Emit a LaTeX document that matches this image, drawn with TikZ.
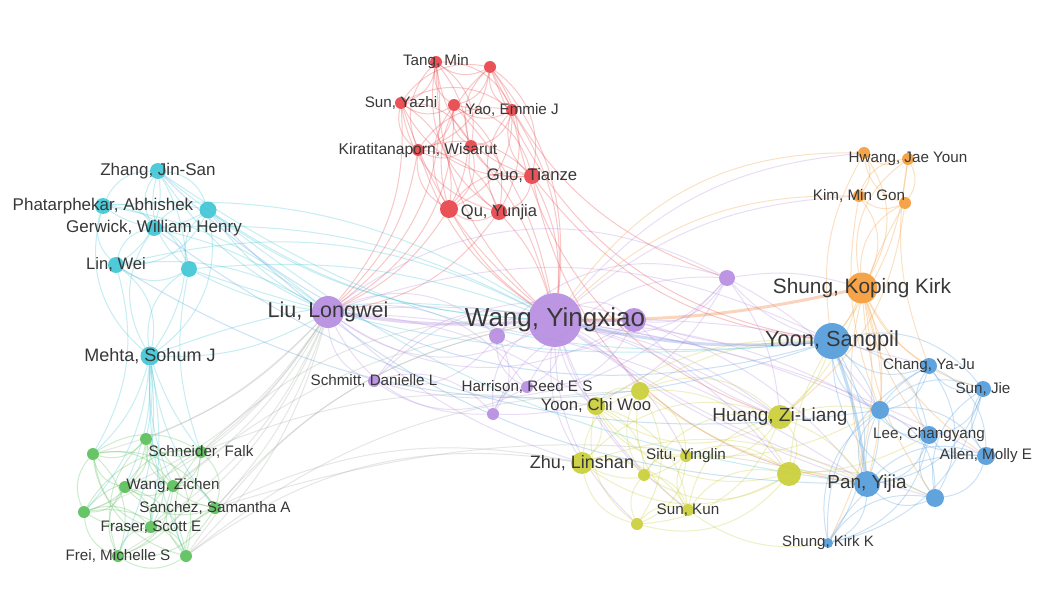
\documentclass[tikz,border=0pt]{standalone}
\usepackage{fontspec}
\setmainfont{Liberation Sans}
\usetikzlibrary{calc}
\definecolor{cr}{HTML}{E8474C}
\definecolor{cc}{HTML}{42C6D6}
\definecolor{cg}{HTML}{5CC05C}
\definecolor{cp}{HTML}{B78FE0}
\definecolor{cy}{HTML}{CBCF3A}
\definecolor{co}{HTML}{F59E3C}
\definecolor{cb}{HTML}{559EDB}
\definecolor{ct}{HTML}{383838}
\definecolor{cgray}{HTML}{A8B0A8}
\pgfdeclarelayer{bgl}
\pgfdeclarelayer{edges}
\pgfsetlayers{bgl,edges,main}
\tikzset{
  dot/.style={circle, fill=#1, draw=none, inner sep=0pt, fill opacity=0.93},
  lab/.style={font=\fontsize{#1}{#1}\selectfont, text=ct, inner sep=0pt},
  edge/.style={draw=#1, line width=1pt, draw opacity=0.3},
  thick edge/.style={draw=#1, line width=3pt, draw opacity=0.35},
}
\newcommand\labs{}
\makeatletter
\newcommand\nd[5]{\node[dot=#4, minimum size=#3pt] (#1) at (#2) {};}
\newcommand\nl[7]{\node[dot=#4, minimum size=#3pt] (#1) at (#2) {};%
  \g@addto@macro\labs{\node[lab=#6] at (#1) {#7};}}
\makeatother
\begin{document}
\begin{tikzpicture}[x=1pt,y=-1pt]
\begin{pgfonlayer}{bgl}
\fill[white] (0,0) rectangle (1050,599);
\end{pgfonlayer}
\useasboundingbox (0,0) rectangle (1050,599);
% red
\nl{r1}{436,62}{12}{cr}{}{15.2}{Tang, Min}
\nd{r2}{490,67}{12}{cr}{}
\nl{r3}{401,103}{12}{cr}{}{15.2}{Sun, Yazhi}
\nd{r4}{454,105}{12}{cr}{}
\nl{r5}{512,110}{12}{cr}{}{15.2}{Yao, Emmie J}
\nl{r6}{418,150}{12}{cr}{}{15.6}{Kiratitanaporn, Wisarut}
\nd{r7}{471,146}{12}{cr}{}
\nl{r8}{532,176}{16}{cr}{}{16.7}{Guo, Tianze}
\nd{r9}{449,209}{18}{cr}{}
\nl{r10}{499,212}{16}{cr}{}{16.5}{Qu, Yunjia}
% cyan
\nl{c1}{158,171}{16}{cc}{}{17}{Zhang, Jin-San}
\nl{c2}{103,206}{16}{cc}{}{17}{Phatarphekar, Abhishek}
\nd{c3}{208,210}{17}{cc}{}
\nl{c4}{154,228}{16}{cc}{}{17}{Gerwick, William Henry}
\nl{c5}{116,265}{16}{cc}{}{16.6}{Lin, Wei}
\nd{c6}{189,269}{16}{cc}{}
\nl{c7}{150,356}{19}{cc}{}{18}{Mehta, Sohum J}
% green
\nd{g1}{93,454}{12}{cg}{}
\nd{g2}{146,439}{12}{cg}{}
\nl{g3}{201,452}{12}{cg}{}{15.2}{Schneider, Falk}
\nd{g4}{125,487}{12}{cg}{}
\nl{g5}{173,486}{12}{cg}{}{15.2}{Wang, Zichen}
\nd{g6}{84,512}{12}{cg}{}
\nl{g7}{215,508}{12}{cg}{}{15.2}{Sanchez, Samantha A}
\nl{g8}{151,527}{12}{cg}{}{15.2}{Fraser, Scott E}
\nl{g9}{118,556}{12}{cg}{}{15.2}{Frei, Michelle S}
\nd{g10}{186,556}{12}{cg}{}
% purple
\nl{p1}{555,320}{54}{cp}{}{26}{Wang, Yingxiao}
\nd{p2}{497,336}{16}{cp}{}
\nd{p3}{634,320}{24}{cp}{}
\nd{p4}{727,278}{16}{cp}{}
\nl{p5}{328,312}{32}{cp}{}{21.5}{Liu, Longwei}
\nl{p6}{374,381}{12}{cp}{}{15.2}{Schmitt, Danielle L}
\nl{p7}{527,387}{12}{cp}{}{15.2}{Harrison, Reed E S}
\nd{p8}{493,414}{12}{cp}{}
% yellow
\nd{y1}{640,391}{18}{cy}{}
\nl{y2}{596,406}{18}{cy}{}{16.7}{Yoon, Chi Woo}
\nl{y3}{780,417}{24}{cy}{}{19}{Huang, Zi-Liang}
\nl{y4}{582,463}{22}{cy}{}{18}{Zhu, Linshan}
\nl{y5}{686,456}{12}{cy}{}{15.2}{Situ, Yinglin}
\nd{y6}{644,475}{12}{cy}{}
\nd{y7}{789,474}{24}{cy}{}
\nl{y8}{688,510}{12}{cy}{}{15.2}{Sun, Kun}
\nd{y9}{637,524}{12}{cy}{}
% orange
\nd{o1}{864,153}{12}{co}{}
\nl{o2}{908,159}{12}{co}{}{15.2}{Hwang, Jae Youn}
\nl{o3}{859,196}{12}{co}{}{15.2}{Kim, Min Gon}
\nd{o4}{905,203}{12}{co}{}
\nl{o5}{862,288}{31}{co}{}{20.8}{Shung, Koping Kirk}
% blue
\nl{b1}{832,341}{36}{cb}{}{21.8}{Yoon, Sangpil}
\nl{b2}{929,366}{16}{cb}{}{15.2}{Chang, Ya-Ju}
\nl{b3}{983,389}{16}{cb}{}{15.2}{Sun, Jie}
\nd{b4}{880,410}{18}{cb}{}
\nl{b5}{929,435}{18}{cb}{}{15.2}{Lee, Changyang}
\nl{b6}{986,456}{18}{cb}{}{15.2}{Allen, Molly E}
\nl{b7}{867,484}{26}{cb}{}{18.9}{Pan, Yijia}
\nd{b8}{935,498}{18}{cb}{}
\nl{b9}{828,543}{10}{cb}{}{15}{Shung, Kirk K}
% labels on top
\labs
\begin{pgfonlayer}{edges}
% within clusters
\foreach \c/\n/\col in {r/10/cr, c/7/cc, g/10/cg, y/9/cy, o/5/co, b/9/cb, p/8/cp} {
  \foreach \i in {1,...,\n} {
    \foreach \j in {1,...,\n} {
      \ifnum\i<\j
        \pgfmathsetmacro\bb{mod(\i+\j,2)==0 ? 32 : -32}
        \draw[edge=\col] (\c\i) to[bend left=\bb] (\c\j);
      \fi
    }
  }
}
% red outward
\foreach \a/\b/\bb in {r1/p1/-22, r2/p1/22, r3/p1/-15, r4/p1/15, r5/p1/18, r6/p1/-18, r7/p1/12, r8/p1/15, r9/p1/-12, r10/p1/12,
  r1/p5/30, r3/p5/22, r4/p5/30, r6/p5/18, r9/p5/15, r10/p5/22, r2/b1/-30, r8/b1/-22, r5/y3/-30, r8/b7/-35, r2/p4/-22} {
  \draw[edge=cr] (\a) to[bend left=\bb] (\b);
}
% cyan outward
\foreach \a/\b/\bb in {c1/p5/-15, c2/p5/15, c3/p5/-12, c4/p5/12, c5/p5/18, c6/p5/-9, c7/p5/-15,
  c1/p1/-18, c3/p1/-15, c4/p1/15, c6/p1/12, c7/p1/15, c5/p1/20, c1/b1/-20, c3/b7/-15, c6/b1/-12, c2/p1/18,
  c7/g1/15, c7/g2/8, c7/g3/-8, c7/g4/12, c7/g5/-12, c7/g6/18, c7/g7/-15, c7/g8/9, c7/g9/15, c7/g10/-12, c5/g1/22, c6/g3/-15} {
  \draw[edge=cc] (\a) to[bend left=\bb] (\b);
}
% green outward
\foreach \a/\b/\bb in {g1/p5/-15, g2/p5/-12, g3/p5/-9, g4/p5/-15, g5/p5/-12, g6/p5/-18, g7/p5/-12, g8/p5/-15, g9/p5/-18, g10/p5/-15,
  g3/p1/22, g7/p1/18, g10/p1/22, g5/p1/15, g7/y4/18, g10/y4/22, g3/y2/15, g10/y1/18, g7/b7/15} {
  \draw[edge=cgray] (\a) to[bend left=\bb] (\b);
}
% purple outward
\foreach \a/\b/\bb in {p1/y1/15, p1/y2/-15, p1/y3/12, p1/y4/-18, p1/y5/15, p1/y6/-12, p1/y7/18, p1/y8/-15, p1/y9/-22,
  p1/o1/22, p1/o3/18, p1/b4/12, p1/b5/9, p1/b7/-8, p1/b2/8, p1/b6/9, p1/b8/-9,
  p5/y2/15, p5/y4/-12, p5/b1/22, p5/b7/15, p5/y3/18, p4/o5/12, p4/b1/-15, p3/b1/-12, p3/b7/15, p3/y3/-12, p4/y3/15, p4/b4/12} {
  \draw[edge=cp] (\a) to[bend left=\bb] (\b);
}
% yellow outward
\foreach \a/\b/\bb in {y1/b1/15, y1/b7/-12, y3/b1/-15, y3/b4/12, y3/b7/15, y3/o5/-15, y7/b1/12, y7/b5/-12, y4/b7/22, y5/b4/-15, y2/b1/18, y7/b8/15, y8/b9/-22} {
  \draw[edge=cy] (\a) to[bend left=\bb] (\b);
}
% orange outward
\foreach \a/\b/\bb in {o5/b1/8, o5/b2/-15, o5/b3/-22, o5/b4/12, o5/b5/-12, o5/b6/-18, o5/b7/15, o5/b8/-15, o5/b9/18, o1/b1/-18, o2/b1/15, o3/b4/-15, o4/b7/-22, o1/p1/-28, o3/p1/-22, o2/b2/-15, o4/y3/22} {
  \draw[edge=co] (\a) to[bend left=\bb] (\b);
}
% blue outward
\foreach \a/\b/\bb in {b1/c1/30, b7/c3/22, b1/c5/25, b4/c4/22} {
  \draw[edge=cb] (\a) to[bend left=\bb] (\b);
}
% strong links
\draw[thick edge=cp] (p1) to[bend left=6] (p5);
\draw[thick edge=cb!60!cp] (p1) to[bend right=8] (b1);
\draw[thick edge=co!70!cr] (p1) to[bend right=6] (o5);
\draw[thick edge=cp] (p1) to (p3);
\draw[thick edge=cb] (b1) to[bend left=6] (b7);
\end{pgfonlayer}
\end{tikzpicture}
\end{document}
